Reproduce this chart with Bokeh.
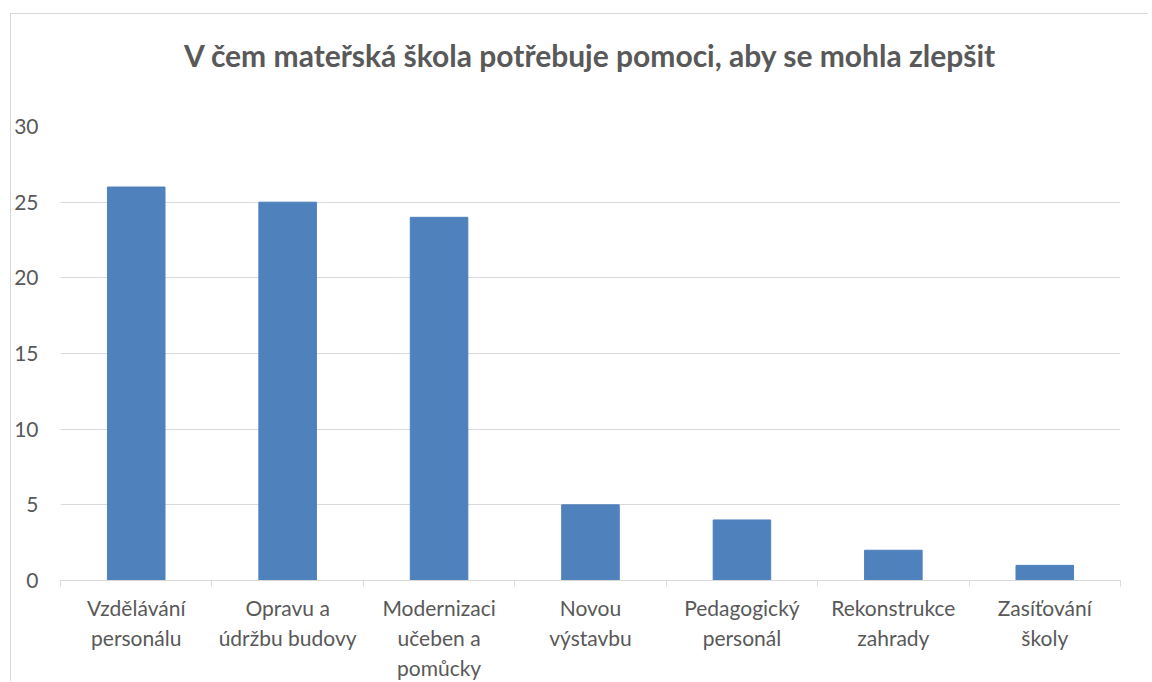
from bokeh.plotting import figure
from bokeh.models import FixedTicker, Range1d, ColumnDataSource, LinearAxis
from bokeh.embed import file_html
from bokeh.resources import INLINE

title_text = "V čem mateřská škola potřebuje pomoci, aby se mohla zlepšit"
categories = ["Vzdělávání\npersonálu", "Opravu a\núdržbu budovy", "Modernizaci\nučeben a\npomůcky",
              "Novou\nvýstavbu", "Pedagogický\npersonál", "Rekonstrukce\nzahrady", "Zasíťování\nškoly"]
values = [26, 25, 24, 5, 4, 2, 1]
y_ticks = [0, 5, 10, 15, 20, 25, 30]

FONT = "Lato"
TXT = "#595959"
GRID = "#d9d9d9"

xs = [i + 0.5 for i in range(len(categories))]
src = ColumnDataSource(dict(x=xs, top=values))

p = figure(width=1138, height=668, output_backend="svg", toolbar_location=None,
           x_range=Range1d(0, len(categories)), y_range=Range1d(0, 30),
           min_border_left=49, min_border_right=29, min_border_top=112, min_border_bottom=95)
p.styles = {"margin-left": "10px", "margin-top": "13px",
            "border-left": "1px solid #d9d9d9", "border-top": "1px solid #d9d9d9"}

# chart title, drawn as the label of an empty axis above the plot
top_axis = LinearAxis(ticker=FixedTicker(ticks=[]), axis_label=title_text,
                      axis_line_color=None, major_tick_line_color=None, minor_tick_line_color=None,
                      major_tick_out=0, major_tick_in=0, minor_tick_out=0, minor_tick_in=0,
                      major_label_text_font_size="0px",
                      axis_label_text_font=FONT, axis_label_text_font_size="30px",
                      axis_label_text_font_style="bold", axis_label_text_color=TXT,
                      axis_label_standoff=54)
p.add_layout(top_axis, "above")

p.vbar(x="x", top="top", width=0.38, source=src, color="#4F81BD")

p.outline_line_color = None
p.background_fill_color = "white"
p.border_fill_color = "white"

xaxis = p.below[0]
xaxis.ticker = FixedTicker(ticks=xs, minor_ticks=list(range(len(categories) + 1)))
xaxis.major_label_overrides = {x: c for x, c in zip(xs, categories)}
xaxis.major_tick_line_color = None
xaxis.major_tick_out = 6
xaxis.major_tick_in = 0
xaxis.minor_tick_line_color = GRID
xaxis.minor_tick_out = 6
xaxis.minor_tick_in = 0
xaxis.axis_line_color = GRID
xaxis.major_label_text_font = FONT
xaxis.major_label_text_font_size = "21px"
xaxis.major_label_text_color = TXT
xaxis.major_label_standoff = 8
p.xgrid.grid_line_color = None

yaxis = p.left[0]
yaxis.ticker = FixedTicker(ticks=y_ticks)
yaxis.axis_line_color = None
yaxis.major_tick_line_color = None
yaxis.major_tick_out = 0
yaxis.major_tick_in = 0
yaxis.minor_tick_line_color = None
yaxis.minor_tick_out = 0
yaxis.minor_tick_in = 0
yaxis.major_label_text_font = FONT
yaxis.major_label_text_font_size = "21px"
yaxis.major_label_text_color = TXT
yaxis.major_label_standoff = 22
p.ygrid.grid_line_color = GRID
p.ygrid.grid_line_width = 1

open("out.html", "w").write(file_html(p, INLINE))
